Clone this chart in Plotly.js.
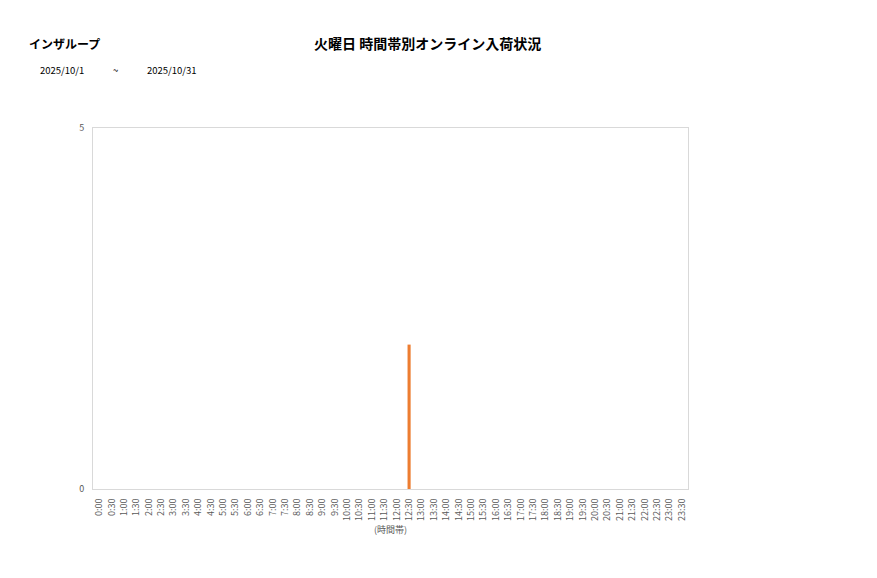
<!DOCTYPE html>
<html><head><meta charset="utf-8">
<script src="https://cdn.plot.ly/plotly-3.0.1.min.js"></script>
<style>body{margin:0;background:#fff}#c{width:877px;height:578px}</style>
</head><body><div id="c"></div>
<script>
const categories = [];
for (let h = 0; h < 24; h++) { categories.push(h + ':00'); categories.push(h + ':30'); }
const values = [0,0,0,0,0,0,0,0,0,0,0,0,0,0,0,0,0,0,0,0,0,0,0,0,0,2,0,0,0,0,0,0,0,0,0,0,0,0,0,0,0,0,0,0,0,0,0,0];
const yTicks = [0, 5];
const chartTitle = '火曜日 時間帯別オンライン入荷状況';
const storeName = 'インザループ';
const dateFrom = '2025/10/1';
const dateTo = '2025/10/31';
const font = '"Noto Sans CJK JP", "Noto Sans", sans-serif';

Plotly.newPlot('c', [{
  type: 'bar', x: categories, y: values,
  marker: {color: '#ED7D31'}, hoverinfo: 'x+y'
}], {
  width: 877, height: 578,
  margin: {l: 93, r: 189, t: 128, b: 89},
  paper_bgcolor: '#fff', plot_bgcolor: '#fff',
  bargap: 0.75,
  font: {family: font, color: '#595959'},
  showlegend: false,
  xaxis: {
    type: 'category', tickangle: -90, tickfont: {size: 9, color: '#595959'},
    showline: true, linecolor: '#d9d9d9', mirror: true, ticks: '',
    ticklabelstandoff: 5,
    title: {text: '(時間帯)', font: {size: 9, color: '#595959'}, standoff: 6}
  },
  yaxis: {
    range: [0, 5], tickvals: yTicks, ticktext: yTicks.map(String),
    tickfont: {size: 9, color: '#595959'}, showgrid: false, zeroline: false,
    showline: true, linecolor: '#d9d9d9', mirror: true, ticks: '',
    ticklabelstandoff: 6
  },
  annotations: [
    {text: '<b>' + chartTitle + '</b>', font: {size: 14, color: '#000'}},
    {text: '<b>' + storeName + '</b>', font: {size: 12, color: '#000'}},
    {text: dateFrom, font: {size: 9.5, color: '#000'}},
    {text: '~', font: {size: 9.5, color: '#000'}},
    {text: dateTo, font: {size: 9.5, color: '#000'}}
  ].map((a, i) => {
    const pos = [[427, 43, 'center'], [27, 43, 'left'], [38, 70, 'left'], [115, 70, 'center'], [145, 70, 'left']][i];
    const pw = 877 - 93 - 189, ph = 578 - 128 - 89;
    return Object.assign(a, {
      showarrow: false, xref: 'paper', yref: 'paper',
      x: (pos[0] - 93) / pw, y: (578 - 89 - pos[1]) / ph,
      xanchor: pos[2], yanchor: 'middle'
    });
  })
}, {displayModeBar: false, staticPlot: true});
</script></body></html>
